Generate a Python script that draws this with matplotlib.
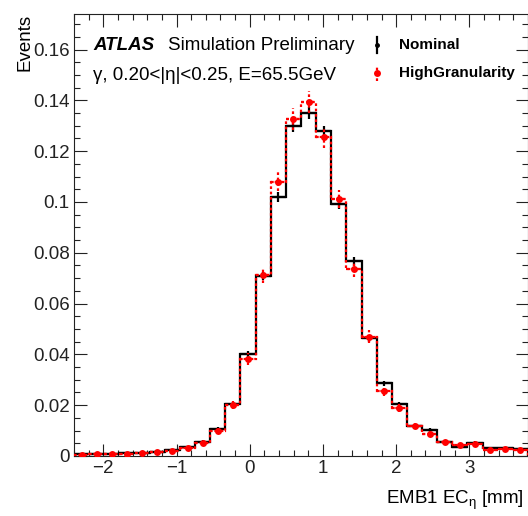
import numpy as np
import matplotlib.pyplot as plt
from matplotlib.ticker import MultipleLocator, FuncFormatter

plt.rcParams['font.family'] = ['Liberation Sans', 'DejaVu Sans']
plt.rcParams['mathtext.fontset'] = 'custom'
plt.rcParams['mathtext.rm'] = 'Liberation Sans'
plt.rcParams['mathtext.it'] = 'Liberation Sans:italic'

# binning of EMB1 EC_eta [mm]
x_min, x_max, n_bins = -2.4, 3.8, 30

# normalised events per bin
nominal = [0.0006, 0.0008, 0.0009, 0.0010, 0.0012, 0.0017, 0.0022, 0.0035, 0.0057, 0.0108,
           0.0204, 0.0400, 0.0709, 0.1020, 0.1298, 0.1350, 0.1278, 0.0992, 0.0766, 0.0464,
           0.0286, 0.0204, 0.0120, 0.0102, 0.0054, 0.0037, 0.0053, 0.0031, 0.0031, 0.0029]
nominal_err = [0.00015, 0.00018, 0.00019, 0.0002, 0.00022, 0.00026, 0.00029, 0.00037, 0.00047, 0.00065,
               0.0009, 0.00125, 0.00167, 0.0020, 0.00226, 0.0023, 0.00224, 0.00197, 0.00173, 0.00135,
               0.00106, 0.0009, 0.00069, 0.00063, 0.00046, 0.00038, 0.00046, 0.00035, 0.00035, 0.00034]
high_gran = [0.0005, 0.0006, 0.0007, 0.0008, 0.0010, 0.0015, 0.0019, 0.0032, 0.0051, 0.0100,
             0.0200, 0.0382, 0.0712, 0.1080, 0.1327, 0.1395, 0.1255, 0.1012, 0.0737, 0.0470,
             0.0254, 0.0189, 0.0117, 0.0086, 0.0054, 0.0043, 0.0046, 0.0025, 0.0026, 0.0024]
high_gran_err = [0.00026, 0.00028, 0.0003, 0.00033, 0.00036, 0.00045, 0.0005, 0.00065, 0.00082, 0.00115,
                 0.00163, 0.00225, 0.00307, 0.00378, 0.00419, 0.0043, 0.00407, 0.00366, 0.00312, 0.00249,
                 0.00183, 0.00158, 0.00124, 0.00107, 0.00085, 0.00075, 0.00078, 0.00058, 0.00059, 0.00056]

edges = np.linspace(x_min, x_max, n_bins + 1)
centers = 0.5 * (edges[1:] + edges[:-1])
half_w = 0.5 * (edges[1] - edges[0])

W, H = 528, 516
fig = plt.figure(figsize=(W / 100, H / 100), dpi=100)
ax = fig.add_axes([74 / W, 1 - 456 / H, 454 / W, 442 / H])

dots = (0, (1.2, 1.2))

# Nominal: solid black histogram with error crosses
ax.stairs(nominal, edges, color='black', lw=1.6, zorder=2)
ax.errorbar(centers, nominal, yerr=nominal_err, xerr=half_w, fmt='none',
            ecolor='black', elinewidth=1.6, zorder=2)

# HighGranularity: dotted red histogram with markers
ax.stairs(high_gran, edges, color='red', lw=1.6, linestyle=dots, zorder=3)
eb = ax.errorbar(centers, high_gran, yerr=high_gran_err, xerr=half_w, fmt='o',
                 color='red', ms=5, mew=0, elinewidth=1.6, zorder=4)
for c in eb[2]:
    c.set_linestyle(dots)

ax.set_xlim(x_min, x_max)
ax.set_ylim(0, 0.174)
ax.xaxis.set_major_locator(MultipleLocator(1))
ax.xaxis.set_minor_locator(MultipleLocator(0.2))
ax.yaxis.set_major_locator(MultipleLocator(0.02))
ax.yaxis.set_minor_locator(MultipleLocator(0.005))
ax.yaxis.set_major_formatter(FuncFormatter(lambda v, p: f'{v:g}'))
ax.tick_params(which='both', direction='in', top=True, right=True, width=0.8, colors='#222222')
ax.tick_params(which='major', length=9, labelsize=13.5, pad=3)
ax.tick_params(which='minor', length=4.5)
for s in ax.spines.values():
    s.set_linewidth(0.8)
    s.set_color('#222222')

# labels and annotations in pixel positions
def px(x, y):
    return x / W, 1 - y / H

fig.text(*px(25, 14), 'Events', rotation=90, ha='center', va='top', fontsize=13.5)
fig.text(*px(524, 500), 'EMB1 EC$_{\\mathrm{\\eta}}$ [mm]', ha='right', va='center', fontsize=13.5)
fig.text(*px(93, 45), 'ATLAS', ha='left', va='center', fontsize=13.5,
         fontweight='bold', fontstyle='italic')
fig.text(*px(168, 45), 'Simulation Preliminary', ha='left', va='center', fontsize=13.5)
fig.text(*px(93, 75), 'γ, 0.20<|η|<0.25, E=65.5GeV', ha='left', va='center', fontsize=13.5)

# legend drawn by hand
lx = (377 - 74) / 454
ly1 = (456 - 45) / 442
ly2 = (456 - 73) / 442
ax.plot([lx, lx], [ly1 - 0.019, ly1 + 0.019], color='black', lw=1.6, transform=ax.transAxes, clip_on=False)
ax.plot([lx], [ly1], 'o', color='black', ms=2.5, transform=ax.transAxes, clip_on=False)
ax.plot([lx, lx], [ly2 - 0.019, ly2 + 0.019], color='red', lw=1.6, linestyle=dots,
        transform=ax.transAxes, clip_on=False)
ax.plot([lx], [ly2], 'o', color='red', ms=5, mew=0, transform=ax.transAxes, clip_on=False)
fig.text(*px(399, 45), 'Nominal', ha='left', va='center', fontsize=11, fontweight='bold')
fig.text(*px(399, 73), 'HighGranularity', ha='left', va='center', fontsize=11, fontweight='bold')

fig.savefig('out.png', dpi=100)
